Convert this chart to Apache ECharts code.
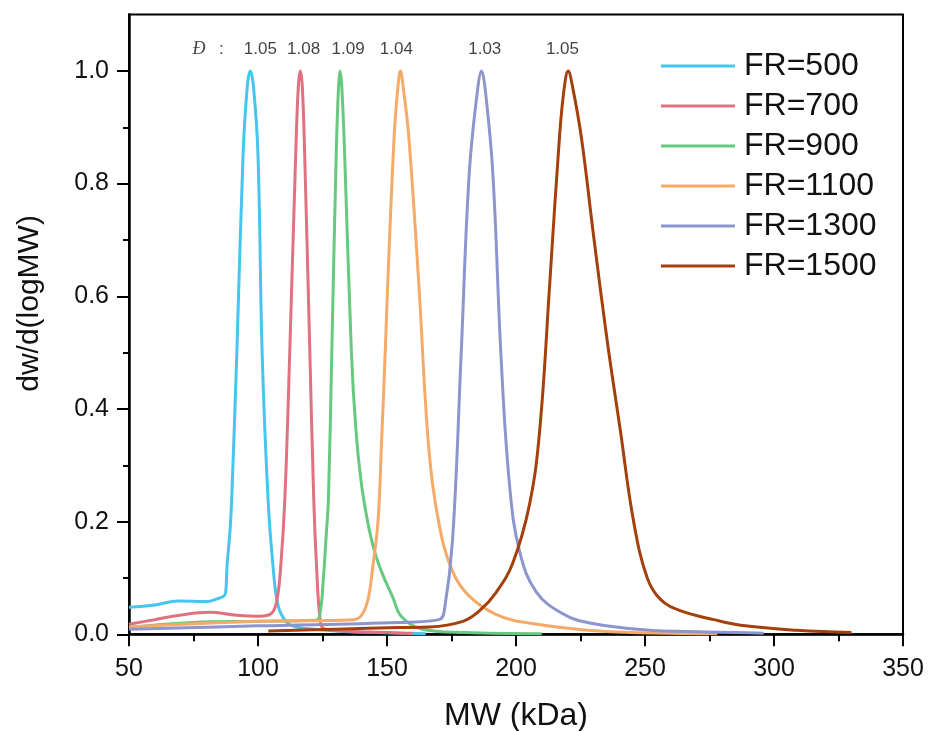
<!DOCTYPE html>
<html><head><meta charset="utf-8">
<script src="https://cdn.jsdelivr.net/npm/echarts@6/dist/echarts.min.js"></script>
<style>html,body{margin:0;padding:0;background:#fff}#c{width:928px;height:731px}</style>
</head><body><div id="c"></div>
<script>
const seriesNames = ['FR=500','FR=700','FR=900','FR=1100','FR=1300','FR=1500'];
const colors = ['#45c5ef','#e0717f','#66c97f','#f5aa68','#8c95cd','#a4400c'];
const dispersity = ['1.05','1.08','1.09','1.04','1.03','1.05'];
const labelMW = [100.9, 117.7, 134.9, 153.6, 187.9, 218.0];
const labelLevel = 1.0385;
const dTexts = ['Đ', ':'];
const dTextMW = [77.1, 85.8];

const mw500 = [50, 60, 69.1, 80, 84.9, 86.8, 87.5, 88.0, 89.1, 89.8, 91.8, 94.2, 95.8, 97.0, 98.3, 100.0, 101.6, 103.9, 105.8, 107.8, 111, 114.9, 119.4, 130, 145, 165];
const w500  = [0.048, 0.052, 0.059, 0.058, 0.064, 0.068, 0.075, 0.122, 0.18, 0.24, 0.5, 0.85, 0.97, 1.0, 0.97, 0.85, 0.5, 0.24, 0.122, 0.051, 0.022, 0.013, 0.01, 0.006, 0.003, 0.001];

const mw700 = [50, 60, 69.8, 81.3, 91.6, 100.6, 105.2, 107.3, 108.8, 110.4, 112.3, 114.6, 115.6, 116.4, 117.2, 118.1, 120.1, 121.6, 122.7, 124, 125.5, 133, 150, 160];
const w700  = [0.018, 0.026, 0.034, 0.039, 0.034, 0.032, 0.037, 0.06, 0.12, 0.24, 0.5, 0.85, 0.97, 1.0, 0.97, 0.85, 0.5, 0.24, 0.12, 0.03, 0.01, 0.006, 0.003, 0.001];

const mw900 = [50, 74.8, 100.6, 122.6, 124.2, 125.2, 126.5, 127.3, 128.6, 130.3, 131.2, 131.8, 132.5, 133.6, 136.2, 138, 140, 142.5, 145, 148, 152.3, 155.5, 163, 180, 210];
const w900  = [0.012, 0.021, 0.023, 0.025, 0.043, 0.09, 0.18, 0.24, 0.5, 0.85, 0.97, 1.0, 0.97, 0.85, 0.5, 0.36, 0.27, 0.2, 0.15, 0.11, 0.065, 0.032, 0.01, 0.003, 0.001];

const mw1100 = [50, 100.6, 136.8, 140, 142.6, 144.5, 146.5, 147.8, 149.3, 150.3, 152.8, 154.2, 155.2, 156.3, 158.4, 162.3, 166.2, 170, 175.2, 181.6, 192, 205, 232, 278];
const w1100  = [0.013, 0.023, 0.026, 0.033, 0.061, 0.12, 0.2, 0.33, 0.5, 0.624, 0.886, 0.97, 1.0, 0.97, 0.886, 0.624, 0.33, 0.2, 0.114, 0.069, 0.036, 0.02, 0.006, 0.001];

const mw1300 = [50, 100, 154.9, 170.2, 172.2, 175.4, 178.7, 181.9, 185.2, 186.6, 188, 191, 194.2, 197.5, 201.4, 207.9, 218.3, 228.6, 249.4, 274.2, 296];
const w1300  = [0.009, 0.015, 0.021, 0.026, 0.042, 0.167, 0.493, 0.82, 0.97, 1.0, 0.97, 0.82, 0.493, 0.265, 0.147, 0.075, 0.036, 0.02, 0.008, 0.004, 0.002];

const mw1500 = [104, 130, 154.9, 166.4, 179.4, 185.9, 192.4, 198.8, 205.3, 209.2, 213.1, 216.9, 218.7, 220.2, 222.0, 225.4, 230, 235.2, 240.4, 245.6, 250.8, 256, 263.7, 276.7, 287.1, 309, 330];
const w1500  = [0.006, 0.009, 0.012, 0.013, 0.023, 0.042, 0.075, 0.127, 0.232, 0.363, 0.624, 0.886, 0.97, 1.0, 0.97, 0.88, 0.71, 0.526, 0.363, 0.2, 0.101, 0.062, 0.042, 0.026, 0.016, 0.007, 0.003];

const xTicks = [50, 100, 150, 200, 250, 300, 350];
const yTicks = [0.0, 0.2, 0.4, 0.6, 0.8, 1.0];
const yMinorTicks = [0.1, 0.3, 0.5, 0.7, 0.9];

const mwArrays = [mw500, mw700, mw900, mw1100, mw1300, mw1500];
const wArrays = [w500, w700, w900, w1100, w1300, w1500];

const font = 'Liberation Sans, Arial, sans-serif';
const chart = echarts.init(document.getElementById('c'));

const lineSeries = seriesNames.map((name, i) => ({
  name, type: 'line', showSymbol: false, symbol: 'none',
  smooth: 0.4,
  lineStyle: { color: colors[i], width: 3 },
  itemStyle: { color: colors[i] },
  data: mwArrays[i].map((x, k) => [x, wArrays[i][k]]),
  z: 3
}));

const labelSeries = {
  type: 'scatter', symbolSize: 0, silent: true, z: 5,
  data: labelMW.map((x, i) => ({ value: [x, labelLevel], label: { formatter: dispersity[i] } })),
  label: { show: true, position: 'inside', color: '#111', fontSize: 17, fontFamily: font }
};
const dSeries = {
  type: 'scatter', symbolSize: 0, silent: true, z: 5,
  data: [
    { value: [dTextMW[0], labelLevel], label: { formatter: dTexts[0], fontStyle: 'italic', fontFamily: 'Liberation Serif, Times New Roman, serif', fontSize: 18 } },
    { value: [dTextMW[1], labelLevel], label: { formatter: dTexts[1], fontFamily: font, fontSize: 17 } }
  ],
  label: { show: true, position: 'inside', color: '#111' }
};

const tickLine = { color: '#000', width: 2 };

chart.setOption({
  animation: false,
  backgroundColor: '#fff',
  grid: { left: 129, right: 25, top: 14.6, bottom: 96.7, containLabel: false, outerBoundsMode: 'none',
    show: true, borderColor: '#000', borderWidth: 2, backgroundColor: 'transparent' },
  legend: {
    data: seriesNames, orient: 'vertical', left: 661, top: 50, padding: 0,
    icon: 'rect', itemWidth: 74, itemHeight: 3, itemGap: 8,
    textStyle: { fontSize: 32, fontFamily: font, color: '#111', padding: [0, 0, 0, 4] }
  },
  xAxis: {
    type: 'value', min: 50, max: 350, interval: 50,
    name: 'MW (kDa)', nameLocation: 'middle', nameGap: 66,
    nameTextStyle: { fontSize: 32, fontFamily: font, color: '#111' },
    axisLine: { lineStyle: { color: '#000', width: 2.5 } },
    axisTick: { show: true, length: 12, lineStyle: tickLine },
    minorTick: { show: true, splitNumber: 2, length: 7, lineStyle: tickLine },
    axisLabel: { fontSize: 25, fontFamily: font, color: '#111', margin: 22,
      formatter: v => (xTicks.includes(v) ? String(v) : '') },
    splitLine: { show: false }
  },
  yAxis: [{
    type: 'value', min: 0, max: 1.1,
    name: 'dw/d(logMW)', nameLocation: 'middle', nameGap: 84, nameRotate: 90,
    nameTextStyle: { fontSize: 30, fontFamily: font, color: '#111', padding: [0, 0, 0, 42] },
    axisLine: { lineStyle: { color: '#000', width: 2.5 } },
    axisTick: { show: true, length: 12, lineStyle: tickLine, customValues: yTicks },
    axisLabel: { fontSize: 25, fontFamily: font, color: '#111', margin: 20, customValues: yTicks,
      formatter: v => v.toFixed(1) },
    splitLine: { show: false }
  }, {
    type: 'value', min: 0, max: 1.1, position: 'left',
    axisLine: { show: false },
    axisTick: { show: true, length: 6, lineStyle: tickLine, customValues: yMinorTicks },
    axisLabel: { show: false },
    splitLine: { show: false }
  }],
  series: [...lineSeries, labelSeries, dSeries]
});
</script></body></html>
